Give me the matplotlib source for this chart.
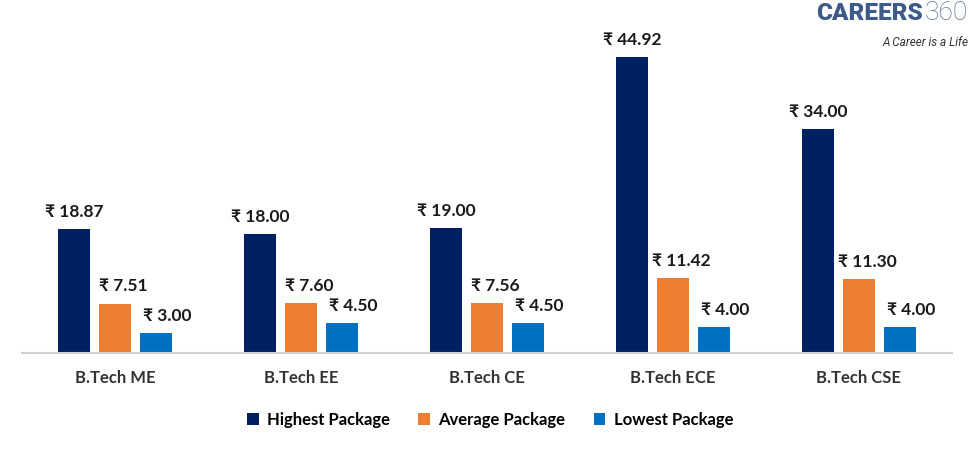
import numpy as np
import matplotlib
matplotlib.use("Agg")
import matplotlib.pyplot as plt
from matplotlib.patches import Patch

plt.rcParams['font.family'] = ['Lato', 'DejaVu Sans']

# data (LPA)
courses = ["B.Tech ME", "B.Tech EE", "B.Tech CE", "B.Tech ECE", "B.Tech CSE"]
highest = [18.87, 18.00, 19.00, 44.92, 34.00]
average = [7.51, 7.60, 7.56, 11.42, 11.30]
lowest = [3.00, 4.50, 4.50, 4.00, 4.00]
series_names = ["Highest Package", "Average Package", "Lowest Package"]
colors = ["#002060", "#ED7D31", "#0070C0"]

fig = plt.figure(figsize=(9.73, 4.5), dpi=100)
ax = fig.add_axes([22 / 973, 1 - 353 / 450, 930 / 973, (353 - 23.5) / 450])

x = np.arange(len(courses))
w = 0.172
step = 0.22
label_dx = [0, 6, 8]  # labels of the smaller bars sit a little to the right
for i, (vals, c) in enumerate(zip([highest, average, lowest], colors)):
    pos = x + (i - 1) * step
    ax.bar(pos, vals, width=w, color=c, zorder=2)
    for px, v in zip(pos, vals):
        ax.annotate(f"\u20b9 {v:.2f}", (px, v), xytext=(label_dx[i], 6.5), textcoords="offset points",
                    ha="center", va="bottom", fontsize=12.5, fontweight="bold", color="#1a1a1a")

ax.set_xlim(-0.5, len(courses) - 0.5)
ax.set_ylim(0, 50)
ax.set_yticks([])
ax.set_xticks(x)
ax.set_xticklabels(courses, fontsize=12, fontweight="bold", color="#333333")
ax.tick_params(axis="x", length=0, pad=12)
for s in ["top", "right", "left"]:
    ax.spines[s].set_visible(False)
ax.spines["bottom"].set_color("#d0d0d0")
ax.spines["bottom"].set_linewidth(1.5)

handles = [Patch(facecolor=c, label=n) for c, n in zip(colors, series_names)]
fig.legend(handles=handles, loc="center", bbox_to_anchor=(490 / 973, 1 - 420 / 450), ncol=3,
           frameon=False, prop={"size": 12, "weight": "bold"}, handlelength=0.7, handleheight=0.7,
           handletextpad=0.5, columnspacing=1.7)

# logo
fig.text(923 / 973, 1 - 13 / 450, "CAREERS", fontsize=17.5, fontweight="black", color="#3d5a8a",
         va="center", ha="right", family=["Roboto", "DejaVu Sans"])
fig.text(925 / 973, 1 - 13 / 450, "360", fontsize=19, fontweight="light", color="#5a7299",
         va="center", ha="left", family=["Roboto", "DejaVu Sans"])
fig.text(968 / 973, 1 - 42 / 450, "A Career is a Life", fontsize=8.5, style="italic", color="#333333",
         va="center", ha="right", family=["Roboto", "DejaVu Sans"])

fig.savefig("out.png", dpi=100)
